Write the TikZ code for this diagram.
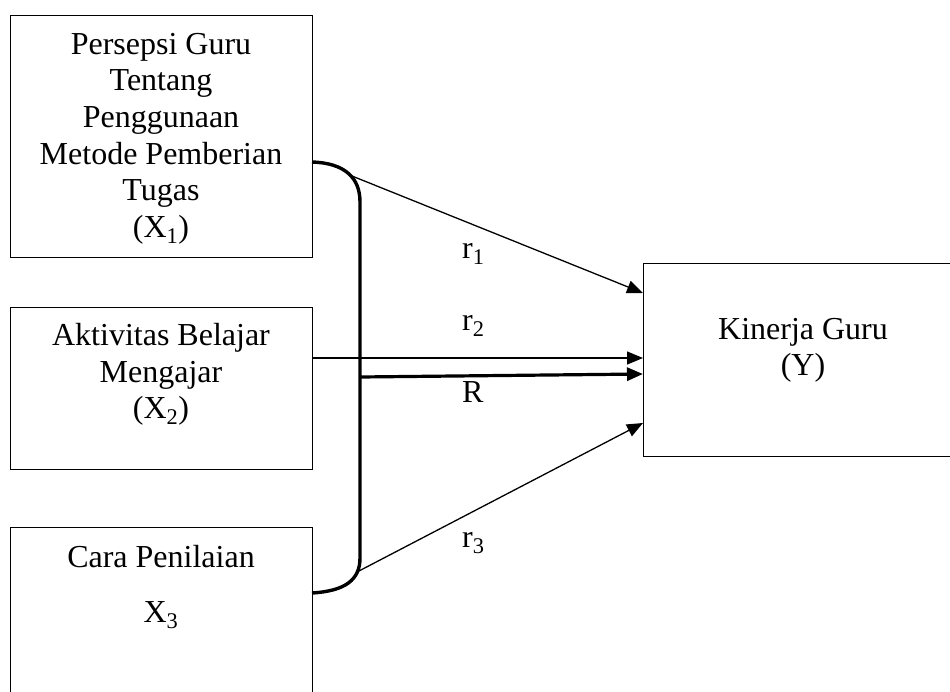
\documentclass[tikz,border=0pt]{standalone}
\usepackage{fontspec}
\setmainfont{Liberation Serif}
\usetikzlibrary{arrows.meta}
\begin{document}
\begin{tikzpicture}[x=1pt,y=-1pt,
  box/.style={draw,line width=1.4pt,inner sep=0pt,anchor=north west},
  txt/.style={font=\fontsize{32}{36.6}\selectfont,align=center,inner sep=0pt,anchor=north},
  lbl/.style={font=\fontsize{32}{36.6}\selectfont,inner sep=0pt,anchor=base west},
  thinarr/.style={line width=1.3pt,-{Triangle[length=16pt,width=13pt]}},
  thickarr/.style={line width=3.2pt,-{Triangle[length=16pt,width=13pt]}},
  brk/.style={line width=3.4pt}]
\useasboundingbox (0,0) rectangle (950,691);
\clip (0,0) rectangle (950,691);
% boxes
\node[box,minimum width=302pt,minimum height=242pt] (b1) at (10,15) {};
\node[box,minimum width=302pt,minimum height=162pt] (b2) at (10,307) {};
\node[box,minimum width=302pt,minimum height=220pt] (b3) at (10,527) {};
\node[box,minimum width=320pt,minimum height=193pt] (by) at (643,263) {};
% texts
\node[txt] (t1) at (161,33) {Persepsi Guru\\Tentang\\Penggunaan\\Metode Pemberian\\Tugas\\(X\textsubscript{1})};
\node[txt] (t2) at (161,323) {Aktivitas Belajar\\Mengajar\\(X\textsubscript{2})};
\node[txt] (t3) at (161,545) {Cara Penilaian\\[18.4pt]X\textsubscript{3}};
\node[txt] (ty) at (803,318) {Kinerja Guru\\(Y)};
% bracket
\coordinate (bt) at (312,162);
\coordinate (bb) at (312,593);
\draw[brk] (bt) .. controls (345,163) and (360,178) .. (360,202) -- (360,558) .. controls (360,580) and (345,591) .. (bb);
% connectors
\coordinate (s1) at (352,176);
\coordinate (e1) at (643,293);
\coordinate (e2) at (643,358);
\coordinate (sR) at (360,377);
\coordinate (eR) at (643,374);
\coordinate (s3) at (357,572);
\coordinate (e3) at (643,423);
\draw[thinarr] (s1) -- (e1);
\draw[thinarr] (b2.east |- e2) -- (e2);
\draw[thickarr] (sR) -- (eR);
\draw[thinarr] (s3) -- (e3);
% labels
\node[lbl] (l1) at (462,258) {r\textsubscript{1}};
\node[lbl] (l2) at (462,330) {r\textsubscript{2}};
\node[lbl] (lR) at (462,402) {R};
\node[lbl] (l3) at (462,547) {r\textsubscript{3}};
\end{tikzpicture}
\end{document}
